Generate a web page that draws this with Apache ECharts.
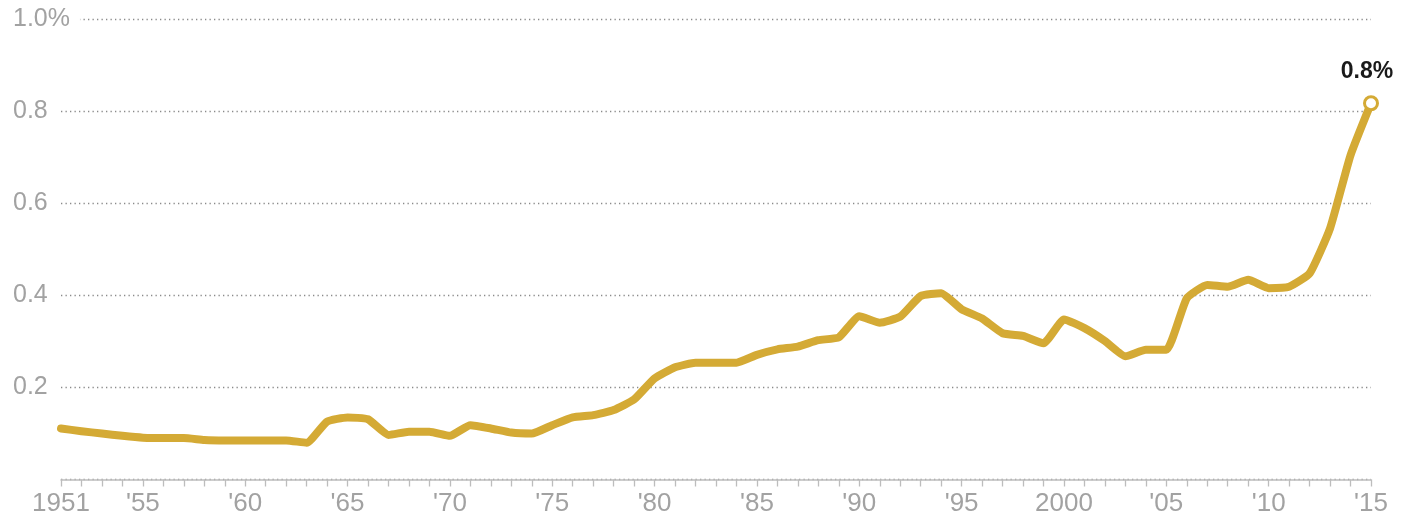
<!DOCTYPE html>
<html>
<head>
<meta charset="utf-8">
<script src="https://cdn.jsdelivr.net/npm/echarts@6/dist/echarts.min.js"></script>
<style>
  html, body { margin: 0; padding: 0; background: #fff; }
  #chart { width: 1401px; height: 517px; }
</style>
</head>
<body>
<div id="chart"></div>
<script>
// years 1951..2015, share in percent
const years = ['1951','1952','1953','1954','1955','1956','1957','1958','1959','1960',
  '1961','1962','1963','1964','1965','1966','1967','1968','1969','1970',
  '1971','1972','1973','1974','1975','1976','1977','1978','1979','1980',
  '1981','1982','1983','1984','1985','1986','1987','1988','1989','1990',
  '1991','1992','1993','1994','1995','1996','1997','1998','1999','2000',
  '2001','2002','2003','2004','2005','2006','2007','2008','2009','2010',
  '2011','2012','2013','2014','2015']
const share = [0.111,0.105,0.100,0.095,0.091,0.090,0.090,0.086,0.085,0.085,
  0.085,0.085,0.080,0.126,0.135,0.131,0.097,0.104,0.104,0.095,
  0.118,0.111,0.102,0.100,0.118,0.135,0.140,0.151,0.174,0.220,
  0.244,0.254,0.254,0.254,0.271,0.283,0.289,0.303,0.309,0.355,
  0.341,0.354,0.399,0.405,0.370,0.350,0.318,0.312,0.296,0.348,
  0.329,0.301,0.268,0.282,0.282,0.394,0.423,0.419,0.434,0.416,
  0.419,0.448,0.546,0.705,0.818]
// x tick labels that are shown
const xTickLabels = {'1951':'1951','1955':"'55",'1960':"'60",'1965':"'65",'1970':"'70",
  '1975':"'75",'1980':"'80",'1985':"'85",'1990':"'90",'1995':"'95",'2000':'2000',
  '2005':"'05",'2010':"'10",'2015':"'15"}
const yTickLabels = ['', '0.2', '0.4', '0.6', '0.8', '1.0%']
const endLabel = '0.8%'

const gold = '#d4aa35'
const font = 'Liberation Sans, Arial, sans-serif'

let myChart = echarts.init(document.getElementById('chart'))

// last point gets the hollow marker and the label
const seriesData = share.map((v, i) => {
  if (i < share.length - 1) return v
  return {
    value: v,
    symbol: 'circle',
    symbolSize: 13,
    itemStyle: { color: '#fff', borderColor: gold, borderWidth: 3 },
    label: {
      show: true,
      position: 'top',
      distance: 12,
      offset: [-4, 0],
      formatter: endLabel,
      color: '#1a1a1a',
      fontSize: 23,
      fontWeight: 'bold',
      fontFamily: font
    }
  }
})

myChart.setOption({
  animation: false,
  grid: { left: 61, right: 30, top: 19.5, bottom: 37.5 },
  xAxis: {
    type: 'category',
    data: years,
    boundaryGap: false,
    axisLine: { lineStyle: { color: '#bdbdbd', width: 1.5 } },
    axisTick: {
      alignWithLabel: true,
      interval: 0,
      length: 7,
      lineStyle: { color: '#bdbdbd', width: 1.3 }
    },
    axisLabel: {
      interval: (idx, val) => xTickLabels[val] !== undefined,
      formatter: (val) => xTickLabels[val] || '',
      color: '#a2a2a2',
      fontSize: 26,
      margin: 11,
      fontFamily: font
    },
    splitLine: { show: false }
  },
  yAxis: {
    type: 'value',
    min: 0,
    max: 1,
    interval: 0.2,
    axisLine: { show: false },
    axisTick: { show: false },
    axisLabel: {
      align: 'left',
      margin: 48,
      color: '#a2a2a2',
      fontSize: 25,
      fontFamily: font,
      backgroundColor: '#fff',
      padding: [0, 10, 0, 0],
      formatter: (v) => yTickLabels[Math.round(v / 0.2)]
    },
    splitLine: {
      lineStyle: { color: '#8a8a8a', width: 1.3, type: [1.3, 3.2] }
    }
  },
  series: [
    {
      type: 'line',
      data: seriesData,
      symbol: 'none',
      showSymbol: true,
      smooth: 0.15,
      z: 5,
      lineStyle: { color: gold, width: 8, join: 'round', cap: 'round' },
      itemStyle: { color: gold }
    }
  ]
})
</script>
</body>
</html>
